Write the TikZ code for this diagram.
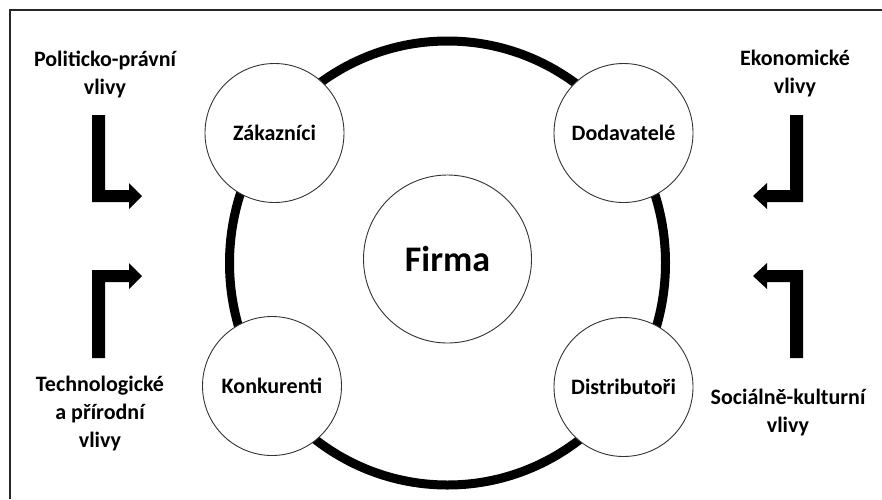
\documentclass[tikz,border=0pt]{standalone}
\usepackage{fontspec}
\setmainfont{Carlito}
\begin{document}
\begin{tikzpicture}[x=1pt,y=-1pt,
  lbl/.style={font=\fontsize{22}{28}\selectfont\bfseries, align=center, inner sep=0pt},
  actor/.style={circle, draw=black!80, line width=0.9pt, fill=white, minimum size=139pt, inner sep=0pt,
    font=\fontsize{22}{27}\selectfont\bfseries},
  core/.style={circle, draw=black!80, line width=0.9pt, fill=white, minimum size=168pt, inner sep=0pt,
    font=\fontsize{36}{43}\selectfont\bfseries},
  ring/.style={line width=9pt, black},
  bent/.style={fill=black, draw=none}]
\useasboundingbox (0,0) rectangle (882,499);
\fill[white] (0,0) rectangle (882,499);
% frame (left and top edges visible)
\draw[line width=1.3pt, black!85] (10,499) -- (10,10) -- (882,10);
% outer ring
\coordinate (ringc) at (447.5,263);
\draw[ring] (ringc) ellipse[x radius=218, y radius=222];
% nodes
\node[core] (firma) at (447.5,259) {Firma};
\node[actor] (zak) at (274.5,133) {Zákazníci};
\node[actor] (dod) at (623.5,133) {Dodavatelé};
\node[actor] (kon) at (272,386) {Konkurenti};
\node[actor] (dis) at (623.5,387) {Distributoři};
% labels
\node[lbl] (pol) at (105,74) {Politicko-právní\\vlivy};
\node[lbl] (eko) at (795,74) {Ekonomické\\vlivy};
\node[lbl] (tech) at (100,413) {Technologické\\a přírodní\\vlivy};
\node[lbl] (soc) at (788,412) {Sociálně-kulturní\\vlivy};
% bent arrows
\fill[bent] (92,115) -- (105,115) -- (105,190) -- (129,190) -- (129,183) -- (142,196)
  -- (129,209) -- (129,202) -- (92,202) -- cycle;
\fill[bent] (92,358) -- (105,358) -- (105,282) -- (129,282) -- (129,289) -- (142,276)
  -- (129,263) -- (129,270) -- (92,270) -- cycle;
\fill[bent] (803,115) -- (790,115) -- (790,190) -- (767,190) -- (767,183) -- (753,196)
  -- (767,209) -- (767,202) -- (803,202) -- cycle;
\fill[bent] (803,358) -- (790,358) -- (790,282) -- (767,282) -- (767,289) -- (753,276)
  -- (767,263) -- (767,270) -- (803,270) -- cycle;
\end{tikzpicture}
\end{document}
